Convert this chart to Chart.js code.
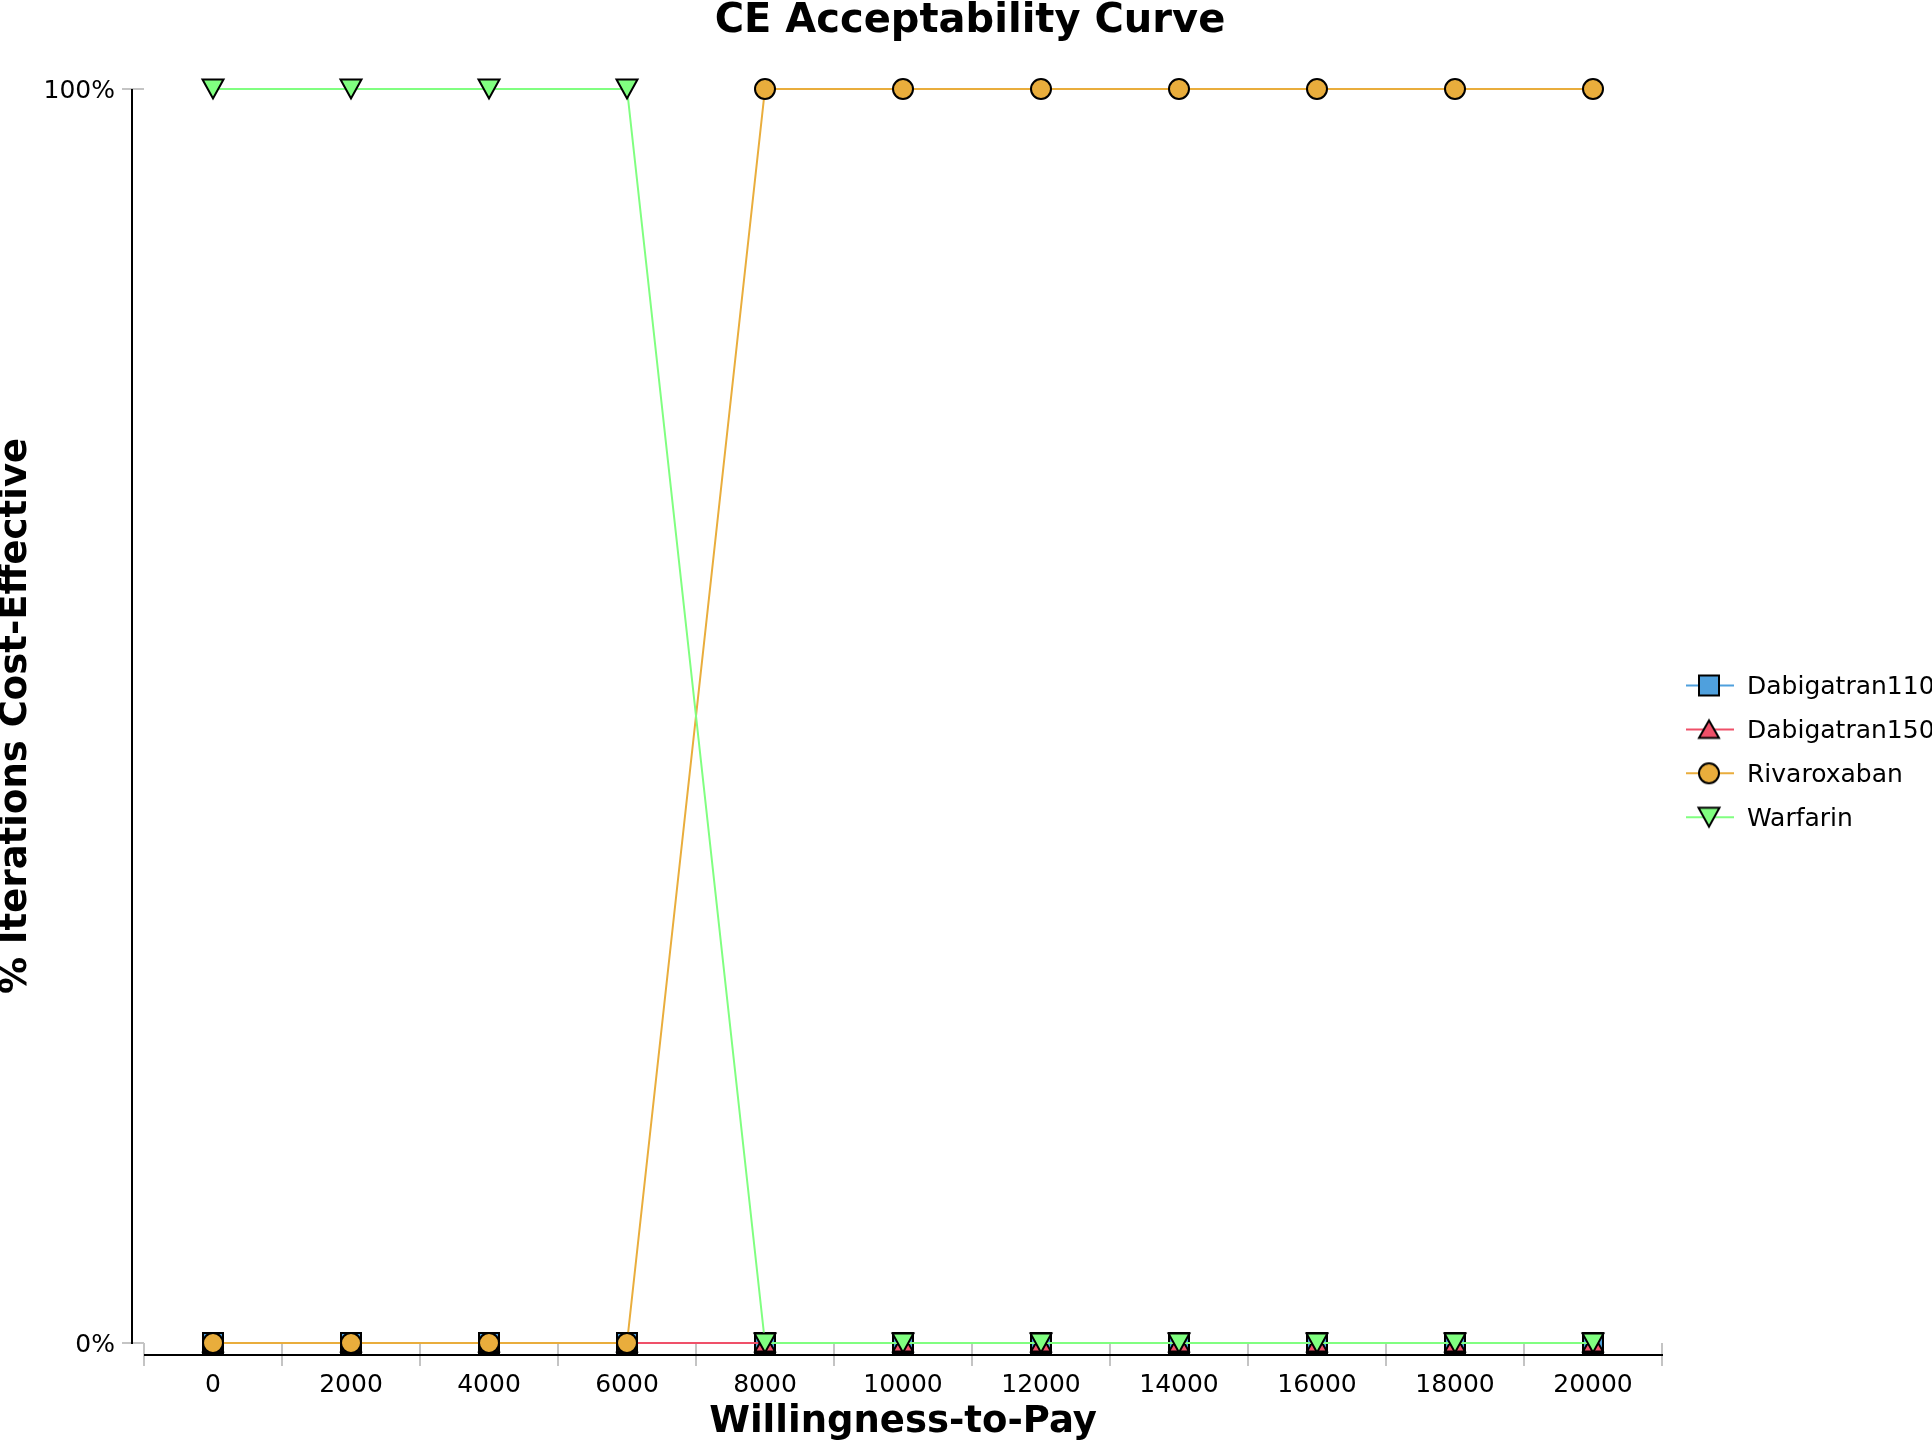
<!DOCTYPE html>
<html>
<head>
<meta charset="utf-8">
<script src="https://cdn.jsdelivr.net/npm/chart.js@4/dist/chart.umd.min.js"></script>
<style>
html,body{margin:0;padding:0;background:#fff;}
#wrap{width:1932px;height:1444px;}
</style>
</head>
<body>
<div id="wrap"><canvas id="c" width="1932" height="1444"></canvas></div>
<script>
// ---- data ----
const categories = [0, 2000, 4000, 6000, 8000, 10000, 12000, 14000, 16000, 18000, 20000];
const dabigatran110 = [0, 0, 0, 0, 0, 0, 0, 0, 0, 0, 0];
const dabigatran150 = [0, 0, 0, 0, 0, 0, 0, 0, 0, 0, 0];
const rivaroxaban  = [0, 0, 0, 0, 100, 100, 100, 100, 100, 100, 100];
const warfarin     = [100, 100, 100, 100, 0, 0, 0, 0, 0, 0, 0];
const seriesNames = ['Dabigatran110', 'Dabigatran150', 'Rivaroxaban', 'Warfarin'];
const yTickValues = [0, 100];
const chartTitle = 'CE Acceptability Curve';

// ---- styles ----
const COLORS = ['#4FA0DD', '#EF5069', '#E9AD3C', '#80FF80'];
const FONT = '"DejaVu Sans", Verdana, sans-serif';

function makeMarker(shape, fill) {
  const s = 26;
  const c = document.createElement('canvas');
  c.width = s; c.height = s;
  const g = c.getContext('2d');
  g.lineWidth = 2; g.strokeStyle = '#000'; g.fillStyle = fill; g.lineJoin = 'miter';
  g.beginPath();
  if (shape === 'square') g.rect(3, 3, 20, 20);
  else if (shape === 'circle') g.arc(13, 13, 10, 0, Math.PI * 2);
  else if (shape === 'up') { g.moveTo(13, 4); g.lineTo(23, 21.5); g.lineTo(3, 21.5); g.closePath(); }
  else { g.moveTo(2.5, 3.5); g.lineTo(23.5, 3.5); g.lineTo(13, 22.5); g.closePath(); }
  g.fill(); g.stroke();
  return c;
}
const MARKERS = [
  makeMarker('square', COLORS[0]),
  makeMarker('up', COLORS[1]),
  makeMarker('circle', COLORS[2]),
  makeMarker('down', COLORS[3])
];
const seriesData = [dabigatran110, dabigatran150, rivaroxaban, warfarin];

const datasets = seriesNames.map((name, i) => ({
  label: name,
  data: seriesData[i],
  borderColor: COLORS[i],
  backgroundColor: COLORS[i],
  borderWidth: 2,
  pointStyle: MARKERS[i],
  pointRadius: 11,
  pointHoverRadius: 11,
  tension: 0,
  clip: false,
  order: 4 - i
}));

const axisLines = {
  id: 'axisLines',
  beforeDatasetsDraw(chart) {
    const ctx = chart.ctx, a = chart.chartArea, y = chart.scales.y;
    ctx.save();
    ctx.strokeStyle = '#000';
    ctx.lineWidth = 2;
    ctx.beginPath();
    ctx.moveTo(a.left - 12, y.getPixelForValue(100));
    ctx.lineTo(a.left - 12, y.getPixelForValue(0) + 1);
    ctx.moveTo(a.left, a.bottom + 12);
    ctx.lineTo(a.right + 1, a.bottom + 12);
    ctx.stroke();
    ctx.restore();
  }
};

const titlePlugin = {
  id: 'titlePlugin',
  afterDraw(chart) {
    const ctx = chart.ctx;
    ctx.save();
    ctx.fillStyle = '#000';
    ctx.font = 'bold 40px ' + FONT;
    ctx.textAlign = 'center';
    ctx.textBaseline = 'alphabetic';
    ctx.fillText(chartTitle, 970, 32);
    ctx.restore();
  }
};

const customLegend = {
  id: 'customLegend',
  afterDraw(chart) {
    const ctx = chart.ctx, a = chart.chartArea;
    const lx0 = a.right + 24, lx1 = a.right + 72, mx = a.right + 47, tx = a.right + 85;
    const rowY0 = 685.5, rowStep = 43.9;
    ctx.save();
    chart.data.datasets.forEach((ds, i) => {
      const ry = rowY0 + i * rowStep;
      ctx.strokeStyle = ds.borderColor;
      ctx.lineWidth = 2;
      ctx.beginPath();
      ctx.moveTo(lx0, ry); ctx.lineTo(lx1, ry);
      ctx.stroke();
      const m = ds.pointStyle;
      ctx.drawImage(m, mx - m.width / 2, ry - m.height / 2);
      ctx.fillStyle = '#000';
      ctx.font = '25px ' + FONT;
      ctx.textAlign = 'left';
      ctx.textBaseline = 'middle';
      ctx.fillText(ds.label, tx, ry + 2);
    });
    ctx.restore();
  }
};

new Chart(document.getElementById('c'), {
  type: 'line',
  data: { labels: categories, datasets: datasets },
  plugins: [axisLines, customLegend, titlePlugin],
  options: {
    responsive: false,
    animation: false,
    events: [],
    devicePixelRatio: 1,
    layout: { padding: { left: 0, right: 270, top: 89, bottom: 0 } },
    plugins: {
      legend: { display: false },
      tooltip: { enabled: false },
      title: { display: false }
    },
    scales: {
      x: {
        type: 'category',
        offset: true,
        grid: { display: true, offset: true, drawOnChartArea: false, drawTicks: true, tickLength: 23, color: '#C4C4C4', lineWidth: 2 },
        border: { display: false },
        ticks: { color: '#000', font: { family: FONT, size: 25 }, padding: 4, maxRotation: 0, autoSkip: false },
        title: { display: true, text: 'Willingness-to-Pay', color: '#000', font: { family: FONT, size: 37, weight: 'bold', lineHeight: 1.0 }, padding: { top: 2, bottom: 3.3 } },
        afterFit(s) { s.height = 101; }
      },
      y: {
        min: 0, max: 100,
        afterBuildTicks(s) { s.ticks = yTickValues.map(v => ({ value: v })); },
        grid: { display: true, drawOnChartArea: false, drawTicks: true, tickLength: 22, color: '#C4C4C4', lineWidth: 2 },
        border: { display: false },
        ticks: { color: '#000', font: { family: FONT, size: 25 }, padding: 7, labelOffset: 2, callback: v => v + '%' },
        title: { display: true, text: '% Iterations Cost-Effective', color: '#000', font: { family: FONT, size: 37, weight: 'bold', lineHeight: 0.9 }, padding: { top: 0, bottom: 0 } },
        afterFit(s) { s.width = 144; }
      }
    }
  }
});
</script>
</body>
</html>
